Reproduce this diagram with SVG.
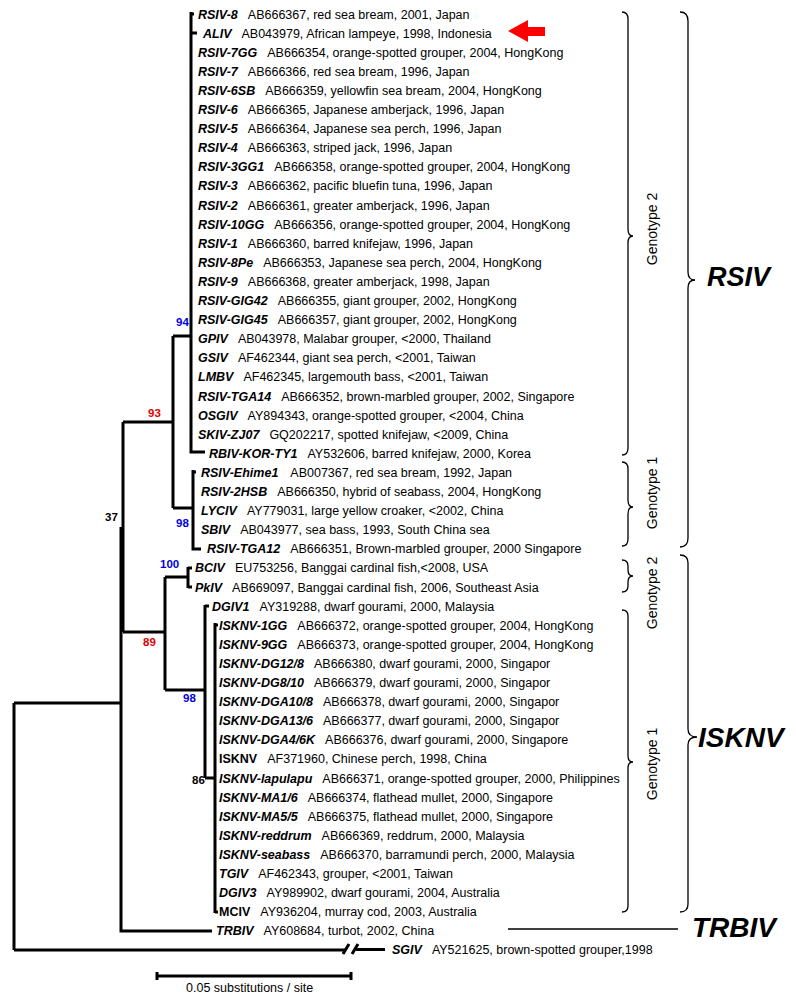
<svg xmlns="http://www.w3.org/2000/svg" width="796" height="1000" viewBox="0 0 796 1000">
<style>
text{font-family:"Liberation Sans",Arial,sans-serif;fill:#000}
.lf{font-size:12.5px}
.n{font-weight:bold;font-style:italic}
.nb{font-weight:bold}
.bs{font-size:11.5px;font-weight:bold}
.red{fill:#e00000}
.blue{fill:#0000e0}
.gt{font-size:14px;text-anchor:middle}
.big{font-size:28px;font-weight:bold;font-style:italic}
.tree{fill:none;stroke:#000;stroke-width:3;stroke-linejoin:miter}
.br{fill:none;stroke:#000;stroke-width:1.3}
</style>
<rect width="796" height="1000" fill="#fff"/>
<g id="connectors" class="tree">
<path d="M14,703V950M14,703H121M14,950H346"/>
<path d="M121,527V931H212"/>
<path d="M123,422V632"/>
<path d="M123,422H173M173,336V508"/>
<path d="M173,336H191M191,12V452H205M191,33H197M191,14H194"/>
<path d="M173,508H193M193,470V549H201M193,472H196"/>
<path d="M123,632H165M165,577V690"/>
<path d="M165,577H188M188,567V588M188,568H192M188,587H192"/>
<path d="M165,690H205M205,605V778M205,606H209"/>
<path d="M205,778H215M215,623V913M215,625H218M215,912H218"/>
<path d="M343,954L349,944M352,954L358,944M356,949.5H385"/>
<path d="M157,976H351M157,972V980M351,972V980"/>
</g>
<g id="bootstrap">
<text class="bs blue" x="176" y="326">94</text>
<text class="bs red" x="148" y="417">93</text>
<text class="bs" x="105" y="521">37</text>
<text class="bs blue" x="176" y="527">98</text>
<text class="bs blue" x="160" y="568">100</text>
<text class="bs red" x="143" y="646">89</text>
<text class="bs blue" x="183" y="702">98</text>
<text class="bs" x="192" y="784">86</text>
</g>
<g id="leaves" class="lf">
<g id="n0"><text x="198" y="18.5"><tspan class="n">RSIV-8</tspan><tspan dx="10">AB666367, red sea bream, 2001, Japan</tspan></text></g>
<g id="n1"><text x="203" y="37.6"><tspan class="n">ALIV</tspan><tspan dx="10">AB043979, African lampeye, 1998, Indonesia</tspan></text></g>
<g id="n2"><text x="198" y="56.7"><tspan class="n">RSIV-7GG</tspan><tspan dx="10">AB666354, orange-spotted grouper, 2004, HongKong</tspan></text></g>
<g id="n3"><text x="198" y="75.8"><tspan class="n">RSIV-7</tspan><tspan dx="10">AB666366, red sea bream, 1996, Japan</tspan></text></g>
<g id="n4"><text x="198" y="94.9"><tspan class="n">RSIV-6SB</tspan><tspan dx="10">AB666359, yellowfin sea bream, 2004, HongKong</tspan></text></g>
<g id="n5"><text x="198" y="114"><tspan class="n">RSIV-6</tspan><tspan dx="10">AB666365, Japanese amberjack, 1996, Japan</tspan></text></g>
<g id="n6"><text x="198" y="133.1"><tspan class="n">RSIV-5</tspan><tspan dx="10">AB666364, Japanese sea perch, 1996, Japan</tspan></text></g>
<g id="n7"><text x="198" y="152.2"><tspan class="n">RSIV-4</tspan><tspan dx="10">AB666363, striped jack, 1996, Japan</tspan></text></g>
<g id="n8"><text x="198" y="171.3"><tspan class="n">RSIV-3GG1</tspan><tspan dx="10">AB666358, orange-spotted grouper, 2004, HongKong</tspan></text></g>
<g id="n9"><text x="198" y="190.4"><tspan class="n">RSIV-3</tspan><tspan dx="10">AB666362, pacific bluefin tuna, 1996, Japan</tspan></text></g>
<g id="n10"><text x="198" y="209.5"><tspan class="n">RSIV-2</tspan><tspan dx="10">AB666361, greater amberjack, 1996, Japan</tspan></text></g>
<g id="n11"><text x="198" y="228.6"><tspan class="n">RSIV-10GG</tspan><tspan dx="10">AB666356, orange-spotted grouper, 2004, HongKong</tspan></text></g>
<g id="n12"><text x="198" y="247.7"><tspan class="n">RSIV-1</tspan><tspan dx="10">AB666360, barred knifejaw, 1996, Japan</tspan></text></g>
<g id="n13"><text x="198" y="266.8"><tspan class="n">RSIV-8Pe</tspan><tspan dx="10">AB666353, Japanese sea perch, 2004, HongKong</tspan></text></g>
<g id="n14"><text x="198" y="285.9"><tspan class="n">RSIV-9</tspan><tspan dx="10">AB666368, greater amberjack, 1998, Japan</tspan></text></g>
<g id="n15"><text x="198" y="305"><tspan class="n">RSIV-GIG42</tspan><tspan dx="10">AB666355, giant grouper, 2002, HongKong</tspan></text></g>
<g id="n16"><text x="198" y="324.1"><tspan class="n">RSIV-GIG45</tspan><tspan dx="10">AB666357, giant grouper, 2002, HongKong</tspan></text></g>
<g id="n17"><text x="198" y="343.2"><tspan class="n">GPIV</tspan><tspan dx="10">AB043978, Malabar grouper, &lt;2000, Thailand</tspan></text></g>
<g id="n18"><text x="198" y="362.3"><tspan class="n">GSIV</tspan><tspan dx="10">AF462344, giant sea perch, &lt;2001, Taiwan</tspan></text></g>
<g id="n19"><text x="198" y="381.4"><tspan class="n">LMBV</tspan><tspan dx="10">AF462345, largemouth bass, &lt;2001, Taiwan</tspan></text></g>
<g id="n20"><text x="198" y="400.5"><tspan class="n">RSIV-TGA14</tspan><tspan dx="10">AB666352, brown-marbled grouper, 2002, Singapore</tspan></text></g>
<g id="n21"><text x="198" y="419.6"><tspan class="n">OSGIV</tspan><tspan dx="10">AY894343, orange-spotted grouper, &lt;2004, China</tspan></text></g>
<g id="n22"><text x="198" y="438.7"><tspan class="n">SKIV-ZJ07</tspan><tspan dx="10">GQ202217, spotted knifejaw, &lt;2009, China</tspan></text></g>
<g id="n23"><text x="209" y="457.8"><tspan class="n">RBIV-KOR-TY1</tspan><tspan dx="10">AY532606, barred knifejaw, 2000, Korea</tspan></text></g>
<g id="n24"><text x="201" y="476.9"><tspan class="n">RSIV-Ehime1</tspan><tspan dx="12">AB007367, red sea bream, 1992, Japan</tspan></text></g>
<g id="n25"><text x="201" y="496"><tspan class="n">RSIV-2HSB</tspan><tspan dx="10">AB666350, hybrid of seabass, 2004, HongKong</tspan></text></g>
<g id="n26"><text x="201" y="515.1"><tspan class="n">LYCIV</tspan><tspan dx="10">AY779031, large yellow croaker, &lt;2002, China</tspan></text></g>
<g id="n27"><text x="201" y="534.2"><tspan class="n">SBIV</tspan><tspan dx="10">AB043977, sea bass, 1993, South China sea</tspan></text></g>
<g id="n28"><text x="207" y="553.3"><tspan class="n">RSIV-TGA12</tspan><tspan dx="10">AB666351, Brown-marbled grouper, 2000 Singapore</tspan></text></g>
<g id="n29"><text x="195" y="572.4"><tspan class="n">BCIV</tspan><tspan dx="10">EU753256, Banggai cardinal fish,&lt;2008, USA</tspan></text></g>
<g id="n30"><text x="195" y="591.5"><tspan class="n">PkIV</tspan><tspan dx="10">AB669097, Banggai cardinal fish, 2006, Southeast Asia</tspan></text></g>
<g id="n31"><text x="212" y="610.6"><tspan class="n">DGIV1</tspan><tspan dx="10">AY319288, dwarf gourami, 2000, Malaysia</tspan></text></g>
<g id="n32"><text x="219" y="629.7"><tspan class="n">ISKNV-1GG</tspan><tspan dx="10">AB666372, orange-spotted grouper, 2004, HongKong</tspan></text></g>
<g id="n33"><text x="219" y="648.8"><tspan class="n">ISKNV-9GG</tspan><tspan dx="10">AB666373, orange-spotted grouper, 2004, HongKong</tspan></text></g>
<g id="n34"><text x="219" y="667.9"><tspan class="n">ISKNV-DG12/8</tspan><tspan dx="10">AB666380, dwarf gourami, 2000, Singapor</tspan></text></g>
<g id="n35"><text x="219" y="687"><tspan class="n">ISKNV-DG8/10</tspan><tspan dx="10">AB666379, dwarf gourami, 2000, Singapor</tspan></text></g>
<g id="n36"><text x="219" y="706.1"><tspan class="n">ISKNV-DGA10/8</tspan><tspan dx="10">AB666378, dwarf gourami, 2000, Singapor</tspan></text></g>
<g id="n37"><text x="219" y="725.2"><tspan class="n">ISKNV-DGA13/6</tspan><tspan dx="10">AB666377, dwarf gourami, 2000, Singapor</tspan></text></g>
<g id="n38"><text x="219" y="744.3"><tspan class="n">ISKNV-DGA4/6K</tspan><tspan dx="10">AB666376, dwarf gourami, 2000, Singapore</tspan></text></g>
<g id="n39"><text x="219" y="763.4"><tspan class="nb">ISKNV</tspan><tspan dx="10">AF371960, Chinese perch, 1998, China</tspan></text></g>
<g id="n40"><text x="219" y="782.5"><tspan class="n">ISKNV-lapulapu</tspan><tspan dx="10">AB666371, orange-spotted grouper, 2000, Philippines</tspan></text></g>
<g id="n41"><text x="219" y="801.6"><tspan class="n">ISKNV-MA1/6</tspan><tspan dx="10">AB666374, flathead mullet, 2000, Singapore</tspan></text></g>
<g id="n42"><text x="219" y="820.7"><tspan class="n">ISKNV-MA5/5</tspan><tspan dx="10">AB666375, flathead mullet, 2000, Singapore</tspan></text></g>
<g id="n43"><text x="219" y="839.8"><tspan class="n">ISKNV-reddrum</tspan><tspan dx="10">AB666369, reddrum, 2000, Malaysia</tspan></text></g>
<g id="n44"><text x="219" y="858.9"><tspan class="n">ISKNV-seabass</tspan><tspan dx="10">AB666370, barramundi perch, 2000, Malaysia</tspan></text></g>
<g id="n45"><text x="219" y="878"><tspan class="n">TGIV</tspan><tspan dx="10">AF462343, grouper, &lt;2001, Taiwan</tspan></text></g>
<g id="n46"><text x="219" y="897.1"><tspan class="n">DGIV3</tspan><tspan dx="10">AY989902, dwarf gourami, 2004, Australia</tspan></text></g>
<g id="n47"><text x="219" y="916.2"><tspan class="nb">MCIV</tspan><tspan dx="10">AY936204, murray cod, 2003, Australia</tspan></text></g>
<g id="n48"><text x="216" y="935.3"><tspan class="n">TRBIV</tspan><tspan dx="10">AY608684, turbot, 2002, China</tspan></text></g>
<g id="n49"><text x="392" y="954.4"><tspan class="n">SGIV</tspan><tspan dx="10">AY521625, brown-spotted grouper,1998</tspan></text></g>
</g>
<g id="arrow"><polygon points="508,31 528,20 528,27 545,27 545,36 528,36 528,42" fill="#ff0000"/></g>
<g id="braces" class="br">
<path d="M622,12Q628,12 628,19V229Q628,236 633,236Q628,236 628,243V448Q628,455 622,455"/>
<path d="M622,462Q628,462 628,469V500Q628,507 633,507Q628,507 628,514V539Q628,546 622,546"/>
<path d="M622,560Q628,560 628,566V570Q628,576 633,576Q628,576 628,582V586Q628,592 622,592"/>
<path d="M622,610Q628,610 628,616V756Q628,762 633,762Q628,762 628,768V906Q628,912 622,912"/>
<path d="M680,12Q688,12 688,21V272Q688,280 695,280Q688,280 688,288V538Q688,547 680,547"/>
<path d="M680,555Q688,555 688,563V729Q688,737 697,737Q688,737 688,745V904Q688,912 680,912"/>
<path d="M508,929H678"/>
</g>
<g id="genotype-labels">
<text class="gt" transform="translate(657,229) rotate(-90)">Genotype 2</text>
<text class="gt" transform="translate(657,493) rotate(-90)">Genotype 1</text>
<text class="gt" transform="translate(657,593) rotate(-90)">Genotype 2</text>
<text class="gt" transform="translate(657,764) rotate(-90)">Genotype 1</text>
</g>
<g id="groups">
<text class="big" x="707" y="286" style="font-size:27px">RSIV</text>
<text class="big" x="698" y="747">ISKNV</text>
<text class="big" x="692" y="937">TRBIV</text>
</g>
<g id="scale"><text class="lf" x="186" y="992">0.05 substitutions / site</text></g>
</svg>
